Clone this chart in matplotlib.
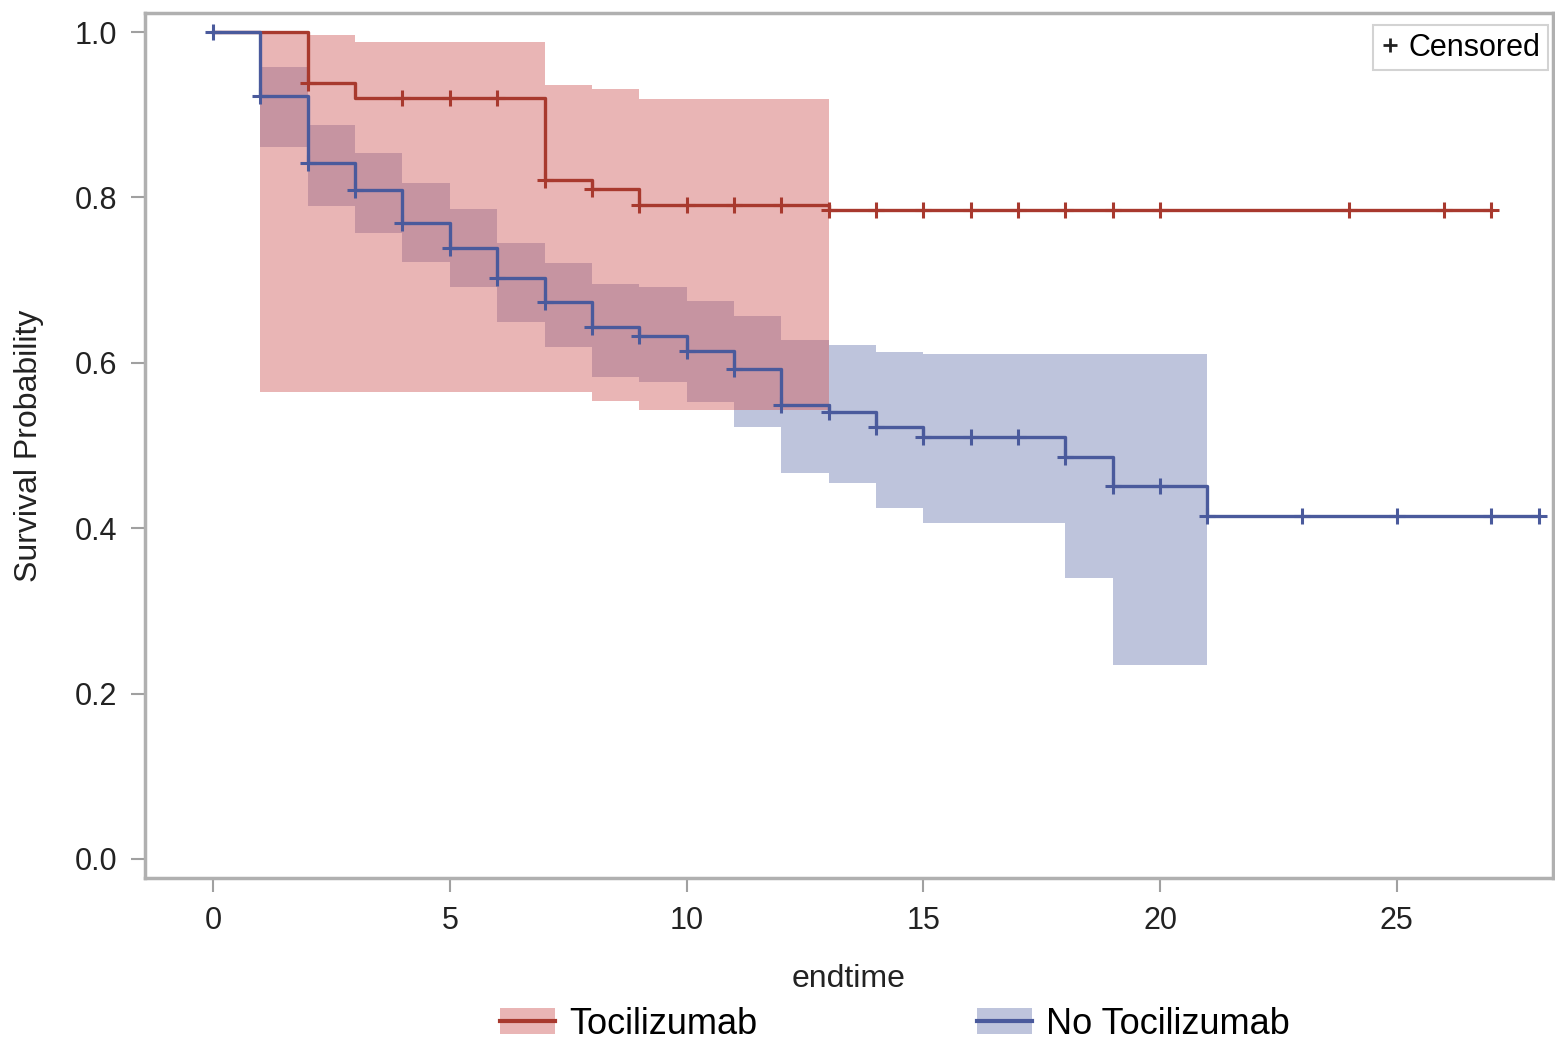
import numpy as np
import matplotlib
matplotlib.use("Agg")
import matplotlib.pyplot as plt
from matplotlib.lines import Line2D
from matplotlib.patches import Patch

plt.rcParams['font.family'] = ['Liberation Sans', 'DejaVu Sans']

# ---- Tocilizumab (red) ----
toc_t = [0, 2, 3, 7, 8, 9, 13, 27]
toc_s = [1.0, 0.938, 0.920, 0.821, 0.810, 0.791, 0.785, 0.785]
toc_cens = [2, 4, 5, 6, 7, 8, 9, 10, 11, 12, 13, 14, 15, 16, 17, 18, 19, 20, 24, 26, 27]
toc_band_t = [1, 2, 3, 7, 8, 9, 13]
toc_up = [1.0, 0.996, 0.988, 0.936, 0.931, 0.919, 0.919]
toc_lo = [0.565, 0.565, 0.565, 0.565, 0.554, 0.543, 0.543]

# ---- No Tocilizumab (blue) ----
no_t = [0, 1, 2, 3, 4, 5, 6, 7, 8, 9, 10, 11, 12, 13, 14, 15, 18, 19, 21, 28]
no_s = [1.0, 0.923, 0.842, 0.809, 0.769, 0.739, 0.703, 0.673, 0.643, 0.632,
        0.614, 0.592, 0.549, 0.541, 0.522, 0.510, 0.486, 0.451, 0.415, 0.415]
no_cens = list(range(0, 22)) + [23, 25, 27, 28]
no_band_t = [1, 2, 3, 4, 5, 6, 7, 8, 9, 10, 11, 12, 13, 14, 15, 18, 19, 21]
no_up = [0.958, 0.888, 0.854, 0.817, 0.786, 0.745, 0.721, 0.695, 0.692, 0.675,
         0.657, 0.628, 0.622, 0.613, 0.611, 0.611, 0.611, 0.611]
no_lo = [0.861, 0.790, 0.757, 0.722, 0.692, 0.649, 0.619, 0.583, 0.577, 0.553,
         0.522, 0.467, 0.455, 0.424, 0.406, 0.340, 0.235, 0.235]

red_line = '#A8392E'
red_fill = '#D05B5B'
blue_line = '#4A5A9C'
blue_fill = '#6F7EB3'

fig = plt.figure(figsize=(15.55, 10.39), dpi=100)
ax = fig.add_axes([0.0932, 0.155, 0.9055, 0.8325])

# bands (blue first, red on top)
ax.fill_between(no_band_t, no_lo, no_up, step='post', color=blue_fill, alpha=0.45, lw=0)
ax.fill_between(toc_band_t, toc_lo, toc_up, step='post', color=red_fill, alpha=0.45, lw=0)

# survival step curves
ax.step(toc_t, toc_s, where='post', color=red_line, lw=2.4)
ax.step(no_t, no_s, where='post', color=blue_line, lw=2.4)


def surv_at(times, surv, c):
    idx = np.searchsorted(times, c, side='right') - 1
    return np.array(surv)[idx]


ax.plot(toc_cens, surv_at(toc_t, toc_s, toc_cens), ls='none', marker='+',
        ms=12, mew=2.2, color=red_line)
ax.plot(no_cens, surv_at(no_t, no_s, no_cens), ls='none', marker='+',
        ms=12, mew=2.2, color=blue_line)

ax.set_xlim(-1.44, 28.3)
ax.set_ylim(-0.023, 1.023)
ax.set_xticks([0, 5, 10, 15, 20, 25])
ax.set_yticks([0.0, 0.2, 0.4, 0.6, 0.8, 1.0])
ax.set_yticklabels(['0.0', '0.2', '0.4', '0.6', '0.8', '1.0'])
ax.tick_params(labelsize=22, length=10, width=1.5, color='#A0A0A0', pad=10,
               labelcolor='#222222')
for s in ax.spines.values():
    s.set_color('#B0B0B0')
    s.set_linewidth(2.5)

ax.set_xlabel('endtime', fontsize=23, color='#222222', labelpad=20)
ax.set_ylabel('Survival Probability', fontsize=23, color='#222222', labelpad=22)

# censored legend inside the axes
cens_h = Line2D([], [], ls='none', marker='+', ms=10, mew=2, color='#222222')
leg1 = ax.legend([cens_h], ['Censored'], loc='upper right', fontsize=22,
                 frameon=True, fancybox=False, edgecolor='#C8C8C8',
                 handlelength=0.6, handletextpad=0.3, borderpad=0.25,
                 borderaxespad=0, bbox_to_anchor=(0.9955, 0.976),
                 bbox_transform=fig.transFigure)
leg1.get_frame().set_linewidth(1.5)

# group legend at bottom
h_toc = (Patch(facecolor=red_fill, alpha=0.45, lw=0), Line2D([], [], color=red_line, lw=3))
h_no = (Patch(facecolor=blue_fill, alpha=0.45, lw=0), Line2D([], [], color=blue_line, lw=3))
fig.legend([h_toc, h_no], ['Tocilizumab', 'No Tocilizumab'], loc='center',
           bbox_to_anchor=(0.5756, 0.0144), ncol=2, frameon=False, fontsize=26,
           handlelength=1.5, handletextpad=0.4, columnspacing=6.1)

fig.savefig('out.png', dpi=100)
